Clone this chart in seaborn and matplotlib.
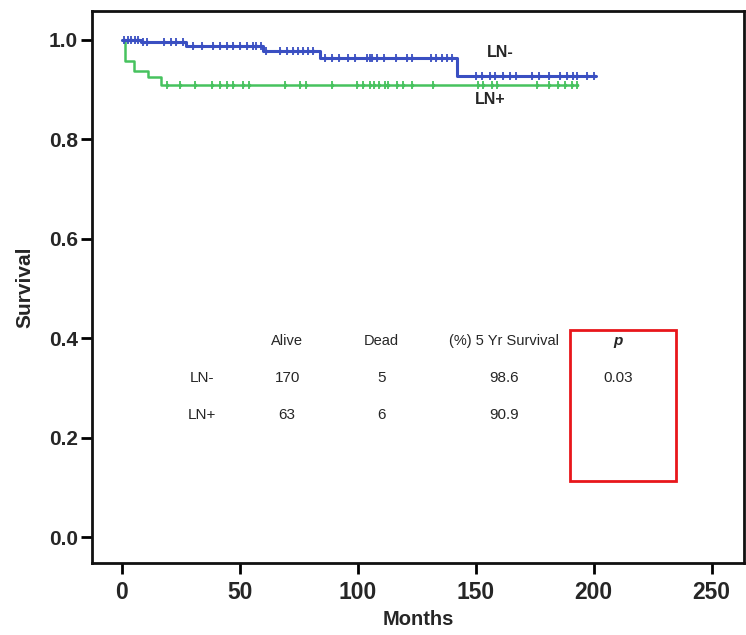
import numpy as np
import pandas as pd
import matplotlib
matplotlib.use("Agg")
import matplotlib.pyplot as plt
import seaborn as sns
from matplotlib.patches import Rectangle

# Kaplan-Meier step data (months, survival)
ln_neg_times = [0, 8, 27, 60, 84, 142, 201]
ln_neg_surv = [1.0, 0.996, 0.987, 0.977, 0.964, 0.928, 0.928]
ln_pos_times = [0, 1.5, 5, 11, 16.5, 193]
ln_pos_surv = [1.0, 0.957, 0.937, 0.926, 0.909, 0.909]

# censored observations (months)
ln_neg_cens = [1, 2.5, 4, 5.5, 7, 9, 10.5, 18, 21, 23, 26, 30, 34, 38.5, 41.5, 44.5,
               47, 50, 53, 55.5, 57, 59, 61, 67, 70, 72.5, 74.5, 76.7, 78.8, 81,
               86, 89, 92, 96, 99, 104, 105, 106, 108, 111, 116, 121, 123, 131, 133,
               135.6, 137.7, 140, 150, 152.5, 156, 158, 161.5, 164.5, 167, 174, 177,
               181, 185.6, 188.6, 191, 193, 197, 200]
ln_pos_cens = [19, 24.6, 31, 38, 41.5, 44.5, 47, 51.5, 54, 69, 75.4, 78, 89, 99.6,
               102, 105, 107, 109, 111.4, 112.7, 116.5, 119, 123, 132, 151, 153, 157,
               159, 176, 181, 185, 188, 190.7, 193]

groups = ["LN-", "LN+"]
alive = [170, 63]
dead = [5, 6]
five_yr = [98.6, 90.9]
p_value = "0.03"

colors = {"LN-": "#3a4fc2", "LN+": "#46c25e"}

sns.set_style("white")
plt.rcParams["font.family"] = ["Liberation Sans", "DejaVu Sans"]

fig = plt.figure(figsize=(7.46, 6.35), dpi=100)
ax = fig.add_axes([0.1233, 0.1134, 0.8737, 0.8693])


def step_value(times, surv, t):
    idx = np.searchsorted(times, t, side="right") - 1
    return np.asarray(surv)[idx]


curves = {"LN-": (ln_neg_times, ln_neg_surv, ln_neg_cens, 2.2),
          "LN+": (ln_pos_times, ln_pos_surv, ln_pos_cens, 1.8)}

for name in ["LN+", "LN-"]:
    t, s, c, lw = curves[name]
    df = pd.DataFrame({"Months": t, "Survival": s})
    sns.lineplot(data=df, x="Months", y="Survival", ax=ax, color=colors[name],
                 drawstyle="steps-post", lw=lw, estimator=None, sort=False)
    cdf = pd.DataFrame({"Months": c, "Survival": step_value(t, s, c)})
    sns.scatterplot(data=cdf, x="Months", y="Survival", ax=ax, marker="|",
                    color=colors[name], s=28, linewidth=1.3, zorder=3)
    sns.scatterplot(data=cdf, x="Months", y="Survival", ax=ax, marker="o",
                    color=colors[name], s=7, linewidth=0, zorder=3)

ax.text(154.7, 0.974, "LN-", fontsize=11.5, fontweight="bold", va="center", ha="left")
ax.text(149.6, 0.880, "LN+", fontsize=11.5, fontweight="bold", va="center", ha="left")

ax.set_xlim(-12.7, 263.6)
ax.set_ylim(-0.052, 1.058)
ax.set_xticks([0, 50, 100, 150, 200, 250])
ax.set_yticks([0.0, 0.2, 0.4, 0.6, 0.8, 1.0])
ax.set_yticklabels(["0.0", "0.2", "0.4", "0.6", "0.8", "1.0"])
ax.tick_params(axis="both", direction="out", length=8, width=2,
               bottom=True, left=True, color="black")
ax.tick_params(axis="x", labelsize=16.5, pad=5)
ax.tick_params(axis="y", labelsize=15, pad=2)
for lab in ax.get_xticklabels() + ax.get_yticklabels():
    lab.set_fontweight("bold")
for sp in ax.spines.values():
    sp.set_linewidth(2)
    sp.set_color("#111111")
ax.set_xlabel("Months", fontsize=14.5, fontweight="bold", va="center")
ax.set_ylabel("Survival", fontsize=15, fontweight="bold", va="center")
ax.xaxis.set_label_coords(0.5, -0.103)
ax.yaxis.set_label_coords(-0.103, 0.5)

# summary table drawn as text in data coords
col_x = [34, 70, 110, 162, 210.5]
hdr_y, row_y = 0.395, [0.319, 0.245]
fs = 11
ax.text(col_x[1], hdr_y, "Alive", ha="center", va="center", fontsize=fs - 0.5)
ax.text(col_x[2], hdr_y, "Dead", ha="center", va="center", fontsize=fs - 0.5)
ax.text(col_x[3], hdr_y, "(%) 5 Yr Survival", ha="center", va="center", fontsize=fs - 0.5)
ax.text(col_x[4], hdr_y, "p", ha="center", va="center", fontsize=fs,
        fontstyle="italic", fontweight="bold")
for i, g in enumerate(groups):
    ax.text(col_x[0], row_y[i], g, ha="center", va="center", fontsize=fs)
    ax.text(col_x[1], row_y[i], str(alive[i]), ha="center", va="center", fontsize=fs)
    ax.text(col_x[2], row_y[i], str(dead[i]), ha="center", va="center", fontsize=fs)
    ax.text(col_x[3], row_y[i], f"{five_yr[i]:.1f}", ha="center", va="center", fontsize=fs)
ax.text(col_x[4], row_y[0], p_value, ha="center", va="center", fontsize=fs)

# red highlight box around the p column
fig.add_artist(Rectangle((570 / 746, 1 - 481 / 635), 106 / 746, 151 / 635,
                         transform=fig.transFigure, fill=False,
                         edgecolor="#e8161b", lw=2))

fig.savefig("out.png", dpi=100)
